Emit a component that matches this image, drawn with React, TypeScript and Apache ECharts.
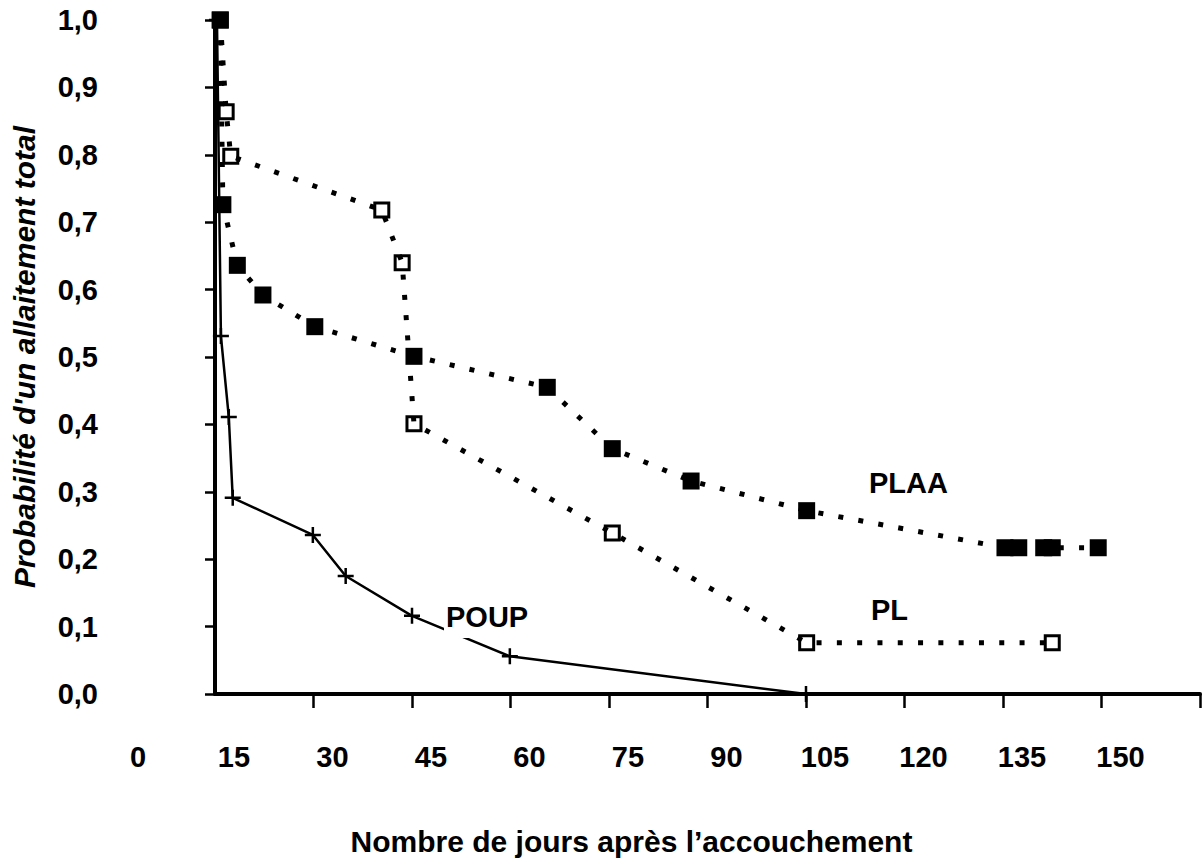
import React, { useEffect, useRef } from "react";
import * as echarts from "echarts";

// Days after delivery (x) and probability of total breastfeeding (y)
const plaaDays = [15.8, 16.2, 18.4, 22.3, 30.2, 45.3, 65.6, 75.5, 87.5, 105.1, 135.3, 137.4, 141.2, 142.5, 149.5];
const plaaProb = [1.0, 0.726, 0.636, 0.592, 0.545, 0.501, 0.455, 0.364, 0.316, 0.272, 0.217, 0.217, 0.217, 0.217, 0.217];

const plDays = [15.8, 16.7, 17.4, 40.4, 43.5, 45.3, 75.5, 105.1, 142.5];
const plProb = [1.0, 0.864, 0.798, 0.718, 0.64, 0.401, 0.239, 0.076, 0.076];

const poupDays = [15.3, 15.9, 17.1, 17.7, 29.9, 34.9, 45.0, 59.9, 105.0];
const poupProb = [1.0, 0.531, 0.411, 0.291, 0.236, 0.175, 0.116, 0.056, 0.0];

const xLabelValues = [15, 30, 45, 60, 75, 90, 105, 120, 135, 150];
const xTickValues = [30, 45, 60, 75, 90, 105, 120, 135, 150, 165];
const xExtraLabel = "0";

const FONT = "Liberation Sans, Arial, sans-serif";

const pairs = (xs: number[], ys: number[]) => xs.map((x, i) => [x, ys[i]]);

export default function App() {
  const ref = useRef<HTMLDivElement>(null);
  useEffect(() => {
    if (!ref.current) return;
    const chart = echarts.init(ref.current, null, { renderer: "svg" });
    const txt = { color: "#000", fontFamily: FONT, fontWeight: "bold" as const, fontSize: 29 };
    chart.setOption({
      animation: false,
      backgroundColor: "#fff",
      grid: { left: 215, right: 3, top: 20, bottom: 165, outerBoundsMode: "none" },
      xAxis: {
        type: "value",
        min: 15,
        max: 165,
        interval: 15,
        name: "Nombre de jours après l’accouchement",
        nameLocation: "middle",
        nameGap: 132,
        nameTextStyle: { ...txt, fontSize: 30, padding: [0, 152, 0, 0] },
        axisLine: { show: true, lineStyle: { color: "#000", width: 4 } },
        axisTick: { show: true, length: 14, lineStyle: { color: "#000", width: 2.5 }, customValues: xTickValues },
        axisLabel: { ...txt, margin: 48, padding: [0, 0, 0, 38], customValues: xLabelValues },
        splitLine: { show: false },
      },
      yAxis: {
        type: "value",
        min: 0,
        max: 1,
        interval: 0.1,
        name: "Probabilité d'un allaitement total",
        nameLocation: "middle",
        nameRotate: 90,
        nameGap: 176,
        nameTextStyle: { ...txt, fontSize: 30, fontStyle: "italic" },
        axisLine: { show: true, lineStyle: { color: "#000", width: 4 } },
        axisTick: { show: true, length: 10, lineStyle: { color: "#000", width: 2.5 } },
        axisLabel: { ...txt, margin: 117, formatter: (v: number) => v.toFixed(1).replace(".", ",") },
        splitLine: { show: false },
      },
      series: [
        {
          name: "POUP",
          type: "line",
          data: pairs(poupDays, poupProb),
          symbol: "path://M8,0L8,16M0,8L16,8",
          symbolSize: 16,
          itemStyle: { color: "#000", borderColor: "#000", borderWidth: 2.5 },
          lineStyle: { color: "#000", width: 2.5 },
          z: 2,
        },
        {
          name: "PL",
          type: "line",
          data: pairs(plDays, plProb),
          symbol: "rect",
          symbolSize: 14,
          itemStyle: { color: "rgba(0,0,0,0)", borderColor: "#000", borderWidth: 3 },
          lineStyle: { color: "#000", width: 5, type: [5, 15.3], cap: "butt" },
          z: 3,
        },
        {
          name: "PLAA",
          type: "line",
          data: pairs(plaaDays, plaaProb),
          symbol: "rect",
          symbolSize: 17,
          itemStyle: { color: "#000", borderWidth: 0 },
          lineStyle: { color: "#000", width: 5, type: [5, 15.3], cap: "butt" },
          z: 4,
        },
      ],
      graphic: [
        { type: "text", x: 138, y: 757, z: 10, style: { text: xExtraLabel, fill: "#000", font: `bold 29px ${FONT}`, align: "center", verticalAlign: "middle" } },
        { type: "text", x: 869, y: 483, z: 10, style: { text: "PLAA", fill: "#000", font: `bold 29px ${FONT}`, align: "left", verticalAlign: "middle" } },
        { type: "text", x: 871, y: 610, z: 10, style: { text: "PL", fill: "#000", font: `bold 29px ${FONT}`, align: "left", verticalAlign: "middle" } },
        {
          type: "text",
          x: 444,
          y: 617,
          z: 10,
          style: {
            text: "POUP",
            fill: "#000",
            font: `bold 29px ${FONT}`,
            align: "left",
            verticalAlign: "middle",
            backgroundColor: "#fff",
            padding: [2, 4, 11, 2],
          },
        },
      ],
    });
    return () => chart.dispose();
  }, []);
  return <div ref={ref} style={{ position: "fixed", left: 0, top: 0, width: 1203, height: 859 }} />;
}
